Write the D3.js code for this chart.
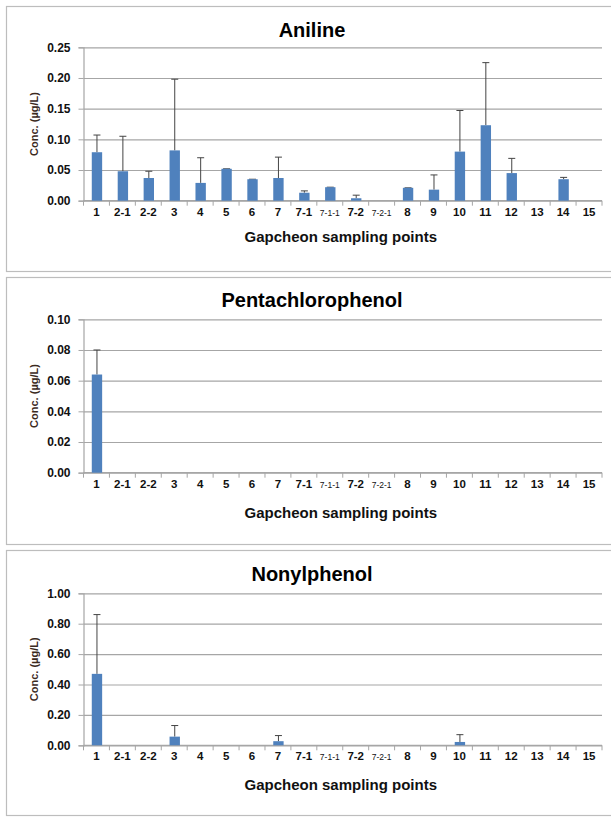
<!DOCTYPE html>
<html>
<head>
<meta charset="utf-8">
<script src="https://cdn.jsdelivr.net/npm/d3@7"></script>
<style>
  body { margin: 0; background: #fff; }
  svg { display: block; font-family: "Liberation Sans", Arial, sans-serif; }
</style>
</head>
<body>
<svg id="chart" width="611" height="819"></svg>
<script>
// sampling points along the Gapcheon stream
var sites = ['1', '2-1', '2-2', '3', '4', '5', '6', '7', '7-1', '7-1-1',
             '7-2', '7-2-1', '8', '9', '10', '11', '12', '13', '14', '15'];

// mean concentrations (ug/L) and standard deviations
var anilineMean = [0.079, 0.048, 0.037, 0.082, 0.029, 0.052, 0.035, 0.037, 0.013, 0.022,
                   0.004, 0, 0.021, 0.018, 0.080, 0.123, 0.045, 0, 0.035, 0];
var anilineSd   = [0.028, 0.057, 0.011, 0.116, 0.041, 0, 0, 0.034, 0.003, 0,
                   0.005, 0, 0, 0.024, 0.067, 0.102, 0.024, 0, 0.003, 0];

var pcpMean = [0.064, 0, 0, 0, 0, 0, 0, 0, 0, 0, 0, 0, 0, 0, 0, 0, 0, 0, 0, 0];
var pcpSd   = [0.016, 0, 0, 0, 0, 0, 0, 0, 0, 0, 0, 0, 0, 0, 0, 0, 0, 0, 0, 0];

var npMean = [0.47, 0, 0, 0.057, 0, 0, 0, 0.027, 0, 0, 0, 0, 0, 0, 0.022, 0, 0, 0, 0, 0];
var npSd   = [0.39, 0, 0, 0.073, 0, 0, 0, 0.037, 0, 0, 0, 0, 0, 0, 0.048, 0, 0, 0, 0, 0];

var anilineTicks = [0, 0.05, 0.10, 0.15, 0.20, 0.25];
var pcpTicks = [0, 0.02, 0.04, 0.06, 0.08, 0.10];
var npTicks = [0, 0.2, 0.4, 0.6, 0.8, 1.0];

var svg = d3.select('#chart');

var plotLeft = 83.5, plotRight = 602;

// one box per compound
var panels = [
    {title: 'Aniline', mean: anilineMean, sd: anilineSd, ticks: anilineTicks,
     boxTop: 6.5, boxBottom: 271.5, top: 47.3, bottom: 200.7, titleGap: 10, xTitleGap: 41},
    {title: 'Pentachlorophenol', mean: pcpMean, sd: pcpSd, ticks: pcpTicks,
     boxTop: 277.5, boxBottom: 544.5, top: 319.3, bottom: 472.7, titleGap: 12, xTitleGap: 45},
    {title: 'Nonylphenol', mean: npMean, sd: npSd, ticks: npTicks,
     boxTop: 550.5, boxBottom: 815.5, top: 593.3, bottom: 745.3, titleGap: 12, xTitleGap: 45}
];

var x = d3.scaleBand()
    .domain(sites)
    .range([plotLeft, plotRight]);

panels.forEach(function(p) {
    drawPanel(p);
});

function drawPanel(p) {
    var g = svg.append('g');

    g.append('rect')
        .attr('x', 6.5)
        .attr('y', p.boxTop)
        .attr('width', 620)
        .attr('height', p.boxBottom - p.boxTop)
        .attr('fill', '#fff')
        .attr('stroke', '#bdbdbd')
        .attr('stroke-width', 1.2);

    var y = d3.scaleLinear()
        .domain([0, d3.max(p.ticks)])
        .range([p.bottom, p.top]);

    // gridlines
    var grid = g.append('g')
        .attr('transform', 'translate(' + plotLeft + ',0)')
        .call(d3.axisLeft(y).tickValues(p.ticks).tickSize(-(plotRight - plotLeft)).tickFormat(''));
    grid.select('.domain').remove();
    grid.selectAll('line').attr('stroke', '#a6a6a6').attr('stroke-width', 1.2);

    // y axis with labels
    var yAxis = g.append('g')
        .attr('transform', 'translate(' + plotLeft + ',0)')
        .call(d3.axisLeft(y).tickValues(p.ticks).tickSize(5).tickPadding(8)
            .tickFormat(d3.format('.2f')));
    yAxis.select('.domain').attr('stroke', '#a6a6a6').attr('stroke-width', 1.2);
    yAxis.selectAll('line').attr('stroke', '#a6a6a6');
    yAxis.selectAll('text')
        .attr('fill', '#111')
        .style('font-size', '12px')
        .style('font-weight', 'bold')
        .style('font-family', '"Liberation Sans", Arial, sans-serif');

    // x axis line and category dividers
    g.append('line')
        .attr('x1', plotLeft).attr('x2', plotRight)
        .attr('y1', p.bottom).attr('y2', p.bottom)
        .attr('stroke', '#a6a6a6').attr('stroke-width', 1.2);

    var dividers = sites.map(function(s) { return x(s); }).concat([plotRight]);
    g.selectAll('.divider')
        .data(dividers)
        .enter().append('line')
        .attr('class', 'divider')
        .attr('x1', function(d) { return d; })
        .attr('x2', function(d) { return d; })
        .attr('y1', p.bottom)
        .attr('y2', p.bottom + 5)
        .attr('stroke', '#a6a6a6');

    g.selectAll('.xlabel')
        .data(sites)
        .enter().append('text')
        .attr('class', 'xlabel')
        .attr('x', function(d) { return x(d) + x.bandwidth() / 2; })
        .attr('y', p.bottom + 15)
        .attr('text-anchor', 'middle')
        .attr('fill', '#111')
        .style('font-size', function(d) { return d.length > 3 ? '8.5px' : '11.5px'; })
        .style('font-weight', function(d) { return d.length > 3 ? 'normal' : 'bold'; })
        .text(function(d) { return d; });

    var rows = sites.map(function(s, i) {
        return {site: s, mean: p.mean[i], sd: p.sd[i]};
    }).filter(function(d) { return d.mean > 0; });

    var barW = x.bandwidth() * 0.4;

    // error bars (upper only)
    var err = g.selectAll('.err')
        .data(rows)
        .enter().append('g')
        .attr('class', 'err');
    err.append('line')
        .attr('x1', function(d) { return x(d.site) + x.bandwidth() / 2 + 0.5; })
        .attr('x2', function(d) { return x(d.site) + x.bandwidth() / 2 + 0.5; })
        .attr('y1', function(d) { return y(d.mean); })
        .attr('y2', function(d) { return y(d.mean + d.sd); })
        .attr('stroke', '#444')
        .attr('stroke-width', 1);
    err.append('line')
        .attr('x1', function(d) { return x(d.site) + x.bandwidth() / 2 - 3; })
        .attr('x2', function(d) { return x(d.site) + x.bandwidth() / 2 + 4; })
        .attr('y1', function(d) { return y(d.mean + d.sd); })
        .attr('y2', function(d) { return y(d.mean + d.sd); })
        .attr('stroke', '#444')
        .attr('stroke-width', 1);

    g.selectAll('.bar')
        .data(rows)
        .enter().append('rect')
        .attr('class', 'bar')
        .attr('x', function(d) { return x(d.site) + x.bandwidth() / 2 - barW / 2 + 0.5; })
        .attr('y', function(d) { return y(d.mean); })
        .attr('width', barW)
        .attr('height', function(d) { return y(0) - y(d.mean); })
        .attr('fill', '#4f81bd');

    // titles
    g.append('text')
        .attr('x', 312)
        .attr('y', p.top - p.titleGap)
        .attr('text-anchor', 'middle')
        .attr('fill', '#000')
        .style('font-size', '20px')
        .style('font-weight', 'bold')
        .text(p.title);

    g.append('text')
        .attr('x', (plotLeft + plotRight) / 2 - 2)
        .attr('y', p.bottom + p.xTitleGap)
        .attr('text-anchor', 'middle')
        .attr('fill', '#111')
        .style('font-size', '15px')
        .style('font-weight', 'bold')
        .text('Gapcheon sampling points');

    g.append('text')
        .attr('transform', 'translate(38,' + (p.top + p.bottom) / 2 + ') rotate(-90)')
        .attr('text-anchor', 'middle')
        .attr('fill', '#3b2a1e')
        .style('font-size', '11px')
        .style('font-weight', 'bold')
        .text('Conc. (\u00b5g/L)');
}
</script>
</body>
</html>
